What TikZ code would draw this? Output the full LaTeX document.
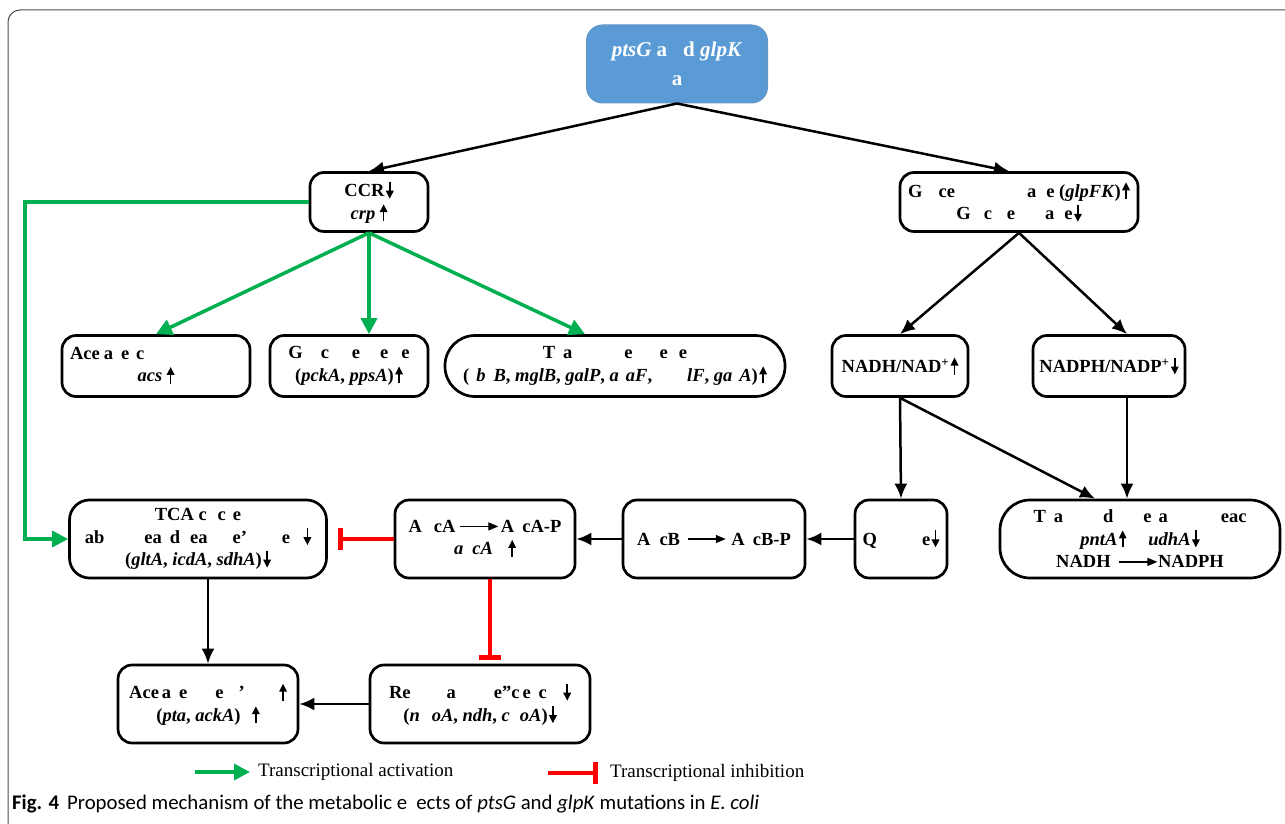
\documentclass[tikz,border=0pt]{standalone}
\usepackage{fontspec}
\setmainfont{Liberation Serif}
\newfontfamily\capfont{Carlito}
\usetikzlibrary{positioning, arrows.meta}

\definecolor{actgreen}{RGB}{0,176,80}
\definecolor{topblue}{RGB}{91,155,213}
\newcommand{\gap}[1]{\hspace{#1pt}}
\newcommand{\longarr}{\tikz[baseline=-6pt]\draw[line width=1.4pt,
  -{Triangle[length=10pt, width=8pt]}] (0pt,0pt) -- (38pt,0pt);}
\newcommand{\uarr}{\hspace{1.5pt}\tikz[baseline=0pt]\draw[line width=1.7pt,
  -{Triangle[length=8pt, width=7.5pt]}] (0pt,-2pt) -- (0pt,15pt);}
\newcommand{\darr}{\hspace{1.5pt}\tikz[baseline=0pt]\draw[line width=1.7pt,
  -{Triangle[length=8pt, width=7.5pt]}] (0pt,15pt) -- (0pt,-2pt);}

\begin{document}
\begin{tikzpicture}[x=1pt, y=-1pt,
        font=\fontsize{18.5}{22.5}\selectfont\bfseries,
        box/.style={rectangle, draw, line width=2.7pt, rounded
          corners=14pt, align=center, inner sep=0pt},
        topbox/.style={rectangle, draw=topblue!80!gray, fill=topblue,
          text=white, line width=1pt, rounded corners=16pt,
          align=center, inner sep=0pt,
          font=\fontsize{21}{25}\selectfont\bfseries},
        flow/.style={draw, line width=2.5pt, -{Latex[length=15pt, width=13pt]}},
        actline/.style={draw=actgreen, line width=3.5pt,
          -{Triangle[length=16pt, width=16pt]}},
        inhib/.style={draw=red, line width=3.5pt,
          -{Bar[width=22pt, line width=5pt]}},
        legend/.style={font=\fontsize{19}{22}\selectfont, inner sep=0pt}
      ]
      \useasboundingbox (0,0) rectangle (1285,824);
      \draw[line width=1pt, draw=black!70, rounded corners=12pt]
      (8,824) -- (8,10) -- (1285,10);

      % top row
      \node [topbox, minimum width=181pt, minimum height=78pt] (mut)
      at (677,64) {\textit{ptsG} a\gap{16}d \textit{glpK}\\[4pt] a};
      \node [box, minimum width=118pt, minimum height=59pt] (ccr)
      at (369,202) {CCR\darr\\ \textit{crp}\,\uarr};
      \node [box, minimum width=238pt, minimum height=59pt] (glyc)
      at (1019,202) {G\gap{16}ce\gap{72}a\gap{10}e (\textit{glpFK})\uarr\\
        G\gap{13}c\gap{15}e\gap{30}a\gap{10}e\darr};

      % second row
      \node [box, minimum width=188pt, minimum height=61pt] (acet)
      at (156,366) {\makebox[172pt][l]{Ace\gap{4}a\gap{8}e\gap{7}c}\\
        \textit{acs}\,\uarr};
      \node [box, minimum width=158pt, minimum height=61pt] (gluco)
      at (349,366) {G\gap{18}c\gap{23}e\gap{20}e\gap{13}e\\
        (\textit{pckA}, \textit{ppsA})\uarr};
      \node [box, rounded corners=30pt, minimum width=340pt, minimum
      height=61pt] (trans) at (615,366) {T\gap{8}a\gap{52}e\gap{27}e\gap{11}e\\
        (\gap{7}\textit{b}\gap{8}\textit{B}, \textit{mglB}, \textit{galP},
        \textit{a}\gap{7}\textit{aF},\gap{35}\textit{lF},
        \textit{ga}\gap{7}\textit{A})\uarr};
      \node [box, minimum width=136pt, minimum height=61pt] (nadh)
      at (900,366) {NADH/NAD\textsuperscript{+}\uarr};
      \node [box, minimum width=152pt, minimum height=61pt] (nadph)
      at (1109,366) {NADPH/NADP\textsuperscript{+}\darr};

      % third row
      \node [box, rounded corners=20pt, minimum width=257pt, minimum
      height=78pt] (tca) at (198,539) {TCA c\gap{11}c\gap{7}e\\
        ab\gap{40}ea\gap{8}d\gap{10}ea\gap{25}e'\gap{35}e\gap{12}\darr\\
        (\textit{gltA}, \textit{icdA}, \textit{sdhA})\darr};
      \node [box, minimum width=180pt, minimum height=78pt] (arca)
      at (485,539) {A\gap{12}cA\gap{4}\longarr\gap{2}A\gap{8}cA-P\\
        \textit{a}\gap{9}\textit{cA}\gap{14}\uarr};
      \node [box, minimum width=182pt, minimum height=78pt] (arcb)
      at (714,539) {A\gap{9}cB\gap{7}\longarr\gap{5}A\gap{8}cB-P};
      \node [box, minimum width=92pt, minimum height=78pt] (quin)
      at (901,539) {Q\gap{45}e\darr};
      \node [box, rounded corners=30pt, minimum width=280pt, minimum
      height=78pt] (thd) at (1140,539) {T\gap{8}a\gap{40}d\gap{30}e\gap{7}a\gap{53}eac\\
        \textit{pntA}\uarr\gap{22}\textit{udhA}\darr\\
        NADH\gap{8}\longarr NADPH};

      % fourth row
      \node [box, minimum width=180pt, minimum height=78pt] (acprod)
      at (208,704) {Ace\gap{3}a\gap{8}e\gap{28}e\gap{15}'\gap{33}\uarr\\
        (\textit{pta}, \textit{ackA})\gap{10}\uarr};
      \node [box, minimum width=220pt, minimum height=78pt] (resp)
      at (480,704) {Re\gap{36}a\gap{38}e''c\gap{3}e\gap{8}c\gap{15}\darr\\
        (\textit{n}\gap{12}\textit{oA}, \textit{ndh},
        \textit{c}\gap{10}\textit{oA})\darr};

      % connectors
      \path [flow] (mut.south) -- (ccr.north);
      \path [flow] (mut.south) -- ([xshift=-10pt]glyc.north);

      \path [actline] (ccr.south) -- (acet.north);
      \path [actline] (ccr.south) -- (ccr.south |- gluco.north);
      \path [actline] (ccr.south) -- ([xshift=-30pt]trans.north);
      \coordinate (gbend) at (25,202);
      \path [actline] (ccr.west) -- (gbend) |- (tca.west);

      \path [flow] (glyc.south) -- (nadh.north);
      \path [flow] (glyc.south) -- ([xshift=18pt]nadph.north);
      \path [flow] (nadh.south) -- (quin.north);
      \path [flow] (nadh.south) -- ([xshift=-45pt]thd.north);
      \path [flow] ([xshift=18pt]nadph.south)
      -- ([xshift=18pt]nadph.south |- thd.north);

      \path [flow] (quin) -- (arcb);
      \path [flow] (arcb) -- (arca);
      \path [inhib, shorten >=10pt] (arca) -- (tca);
      \path [inhib, shorten >=4pt] ([xshift=5pt]arca.south)
      -- ([xshift=5pt]arca.south |- resp.north);

      \path [flow] (acprod.north |- tca.south) -- (acprod.north);
      \path [flow] (resp) -- (acprod);

      % legend
      \coordinate (actL) at (195,772);
      \coordinate (actR) at (250,772);
      \path [actline] (actL) -- (actR);
      \node [legend, anchor=west] (actlab) at (258,772)
      {Transcriptional activation};

      \coordinate (inhL) at (548,773);
      \coordinate (inhR) at (598,773);
      \path [inhib] (inhL) -- (inhR);
      \node [legend, anchor=west] (inhlab) at (610,773)
      {Transcriptional inhibition};

      % caption
      \node [anchor=west, inner sep=0pt, font=\capfont\fontsize{20.8}{24}\selectfont]
      (caption) at (12,804) {\textbf{Fig. 4}\gap{8}Proposed mechanism of the
        metabolic e\gap{9}ects of \textit{ptsG} and \textit{glpK} mutations
        in \textit{E. coli}};

    \end{tikzpicture}
\end{document}
